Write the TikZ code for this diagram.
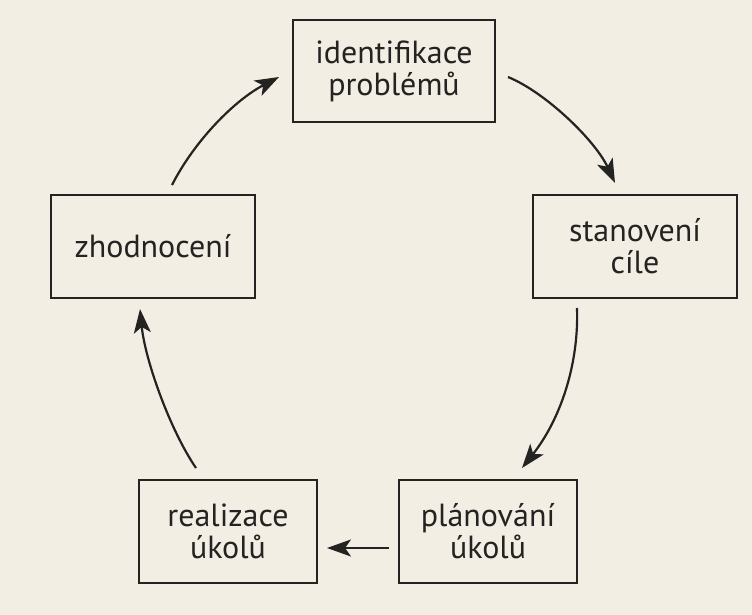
\documentclass[tikz,border=0pt]{standalone}
\usepackage{fontspec}
\setmainfont{PT Sans}
\usetikzlibrary{arrows.meta}
\definecolor{paper}{HTML}{F2EEE4}
\definecolor{ink}{HTML}{242322}
\tikzset{
  stagebox/.style={draw=ink, line width=2.3pt, fill=paper, align=center, text=ink,
    font=\fontsize{32}{32}\selectfont, inner sep=0pt},
  cyclearrow/.style={draw=ink, line width=2.2pt, -{Stealth[length=24pt,width=17pt,inset=6pt]}}
}
\begin{document}
\begin{tikzpicture}[x=1pt,y=-1pt]
\fill[paper] (0,0) rectangle (752,615);
\useasboundingbox (0,0) rectangle (752,615);
\node[stagebox, minimum width=202pt, minimum height=102pt] (b1) at (394,71) {identifikace\\problémů};
\node[stagebox, minimum width=204pt, minimum height=103pt] (b2) at (635,246.5) {stanovení\\cíle};
\node[stagebox, minimum width=178pt, minimum height=103pt] (b3) at (488,531.5) {plánování\\úkolů};
\node[stagebox, minimum width=178pt, minimum height=103pt] (b4) at (228,531.5) {realizace\\úkolů};
\node[stagebox, minimum width=204pt, minimum height=103pt] (b5) at (153,246.5) {zhodnocení};
\coordinate (s1) at (508,77);  \coordinate (e1) at (615,183);
\coordinate (s2) at (577,308); \coordinate (e2) at (522,468);
\coordinate (s3) at (389,548); \coordinate (e3) at (327,548);
\coordinate (s4) at (196,468); \coordinate (e4) at (140,309);
\coordinate (s5) at (172,185); \coordinate (e5) at (279,77);
\draw[cyclearrow] (s1) .. controls (545,92) and (595,140) .. (e1);
\draw[cyclearrow] (s2) .. controls (579,365) and (560,420) .. (e2);
\draw[cyclearrow] (s3) -- (e3);
\draw[cyclearrow] (s4) .. controls (170,430) and (145,360) .. (e4);
\draw[cyclearrow] (s5) .. controls (195,140) and (235,100) .. (e5);
\end{tikzpicture}
\end{document}
